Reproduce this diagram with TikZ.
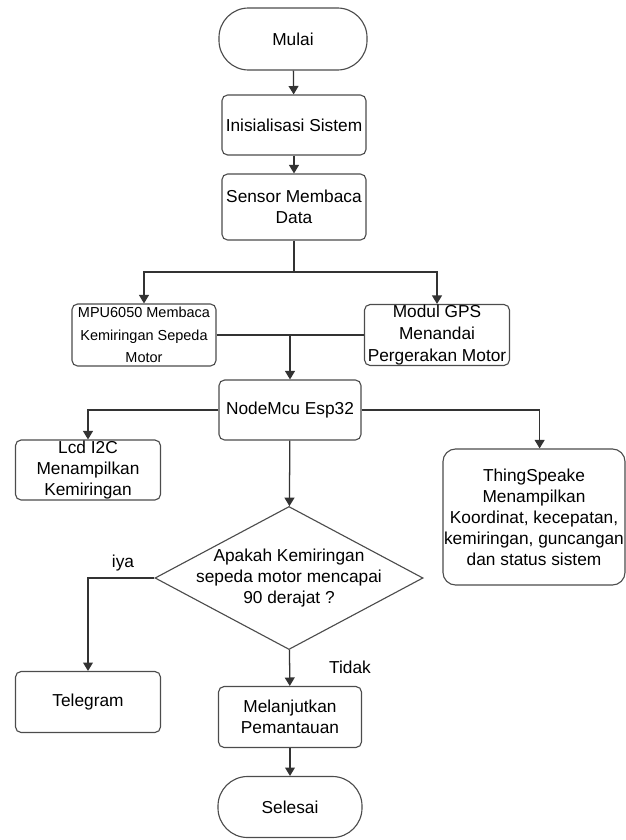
\documentclass[tikz,border=0pt]{standalone}
\usepackage{fontspec}
\setmainfont{Liberation Sans}
\usetikzlibrary{shapes.geometric,arrows.meta}

\begin{document}
\begin{tikzpicture}[x=.025cm,y=-.025cm,
  font=\fontsize{12.3}{15}\selectfont,
  box/.style={draw=black!70, line width=.8pt, rounded corners=4pt, align=center, inner sep=0pt, minimum width=3.6cm, minimum height=1.5cm},
  term/.style={box, rounded corners=.74cm, minimum height=1.55cm},
  tanya/.style={draw=black!70, line width=.8pt, diamond, align=center, inner xsep=-28pt, inner ysep=-12pt, minimum width=6.7cm, minimum height=3.575cm},
  arr/.style={-{Triangle[length=6pt,width=7pt]}, draw=black!80, line width=.9pt},
  garis/.style={draw=black!80, line width=.9pt}]
\useasboundingbox (0,0) rectangle (625,840);
\node[term, minimum width=3.7cm] (mulai) at (293,39){Mulai};
\node[box] (init) at (294,125){Inisialisasi Sistem};
\node[box, minimum height=1.65cm] (sensor) at (294,207){Sensor Membaca\\Data};
\coordinate (cab1) at (294,272);
\node[box, minimum height=1.55cm, font=\fontsize{10.3}{16}\selectfont] (mpu) at (144,335){MPU6050 Membaca\\Kemiringan Sepeda\\Motor};
\node[box, minimum width=3.625cm, minimum height=1.525cm, font=\fontsize{12.3}{15.5}\selectfont] (gps) at (437,335){Modul GPS\\Menandai\\Pergerakan Motor};
\coordinate (cab2) at (290,335);
\node[box, minimum width=3.55cm] (esp) at (290,410){NodeMcu Esp32};
\node[box, minimum width=3.625cm] (lcd) at (88,470){Lcd I2C\\Menampilkan\\Kemiringan};
\node[box, rounded corners=9pt, minimum width=4.55cm, minimum height=3.4cm] (thing) at (534,517){ThingSpeake\\Menampilkan\\Koordinat, kecepatan,\\kemiringan, guncangan\\dan status sistem};
\node[tanya] (cek) at (289,578){Apakah Kemiringan\\sepeda motor mencapai\\90 derajat ?};
\node[box, minimum width=3.625cm, minimum height=1.525cm] (telegram) at (88,702){Telegram};
\node[box, minimum width=3.575cm, minimum height=1.525cm] (lanjut) at (290,717){Melanjutkan\\Pemantauan};
\node[term, minimum height=1.525cm] (selesai) at (290,807){Selesai};
\node (iya) at (123,563){iya};
\node (tidak) at (350,667){Tidak};
\draw[arr](mulai) -- (init);
\draw[arr](init) -- (sensor);
\draw[garis](sensor) -- (cab1);
\draw[arr](cab1) -| (mpu);
\draw[arr](cab1) -| (gps);
\draw[garis](mpu) -- (gps);
\draw[arr](cab2) -- (esp);
\draw[arr](esp) -| (lcd);
\draw[arr](esp.east) -| ([xshift=4]thing.north);
\draw[arr](esp) -- (cek);
\draw[arr](cek) -| (telegram);
\draw[arr](cek) -- (lanjut);
\draw[arr](lanjut) -- (selesai);
\end{tikzpicture}
\end{document}
